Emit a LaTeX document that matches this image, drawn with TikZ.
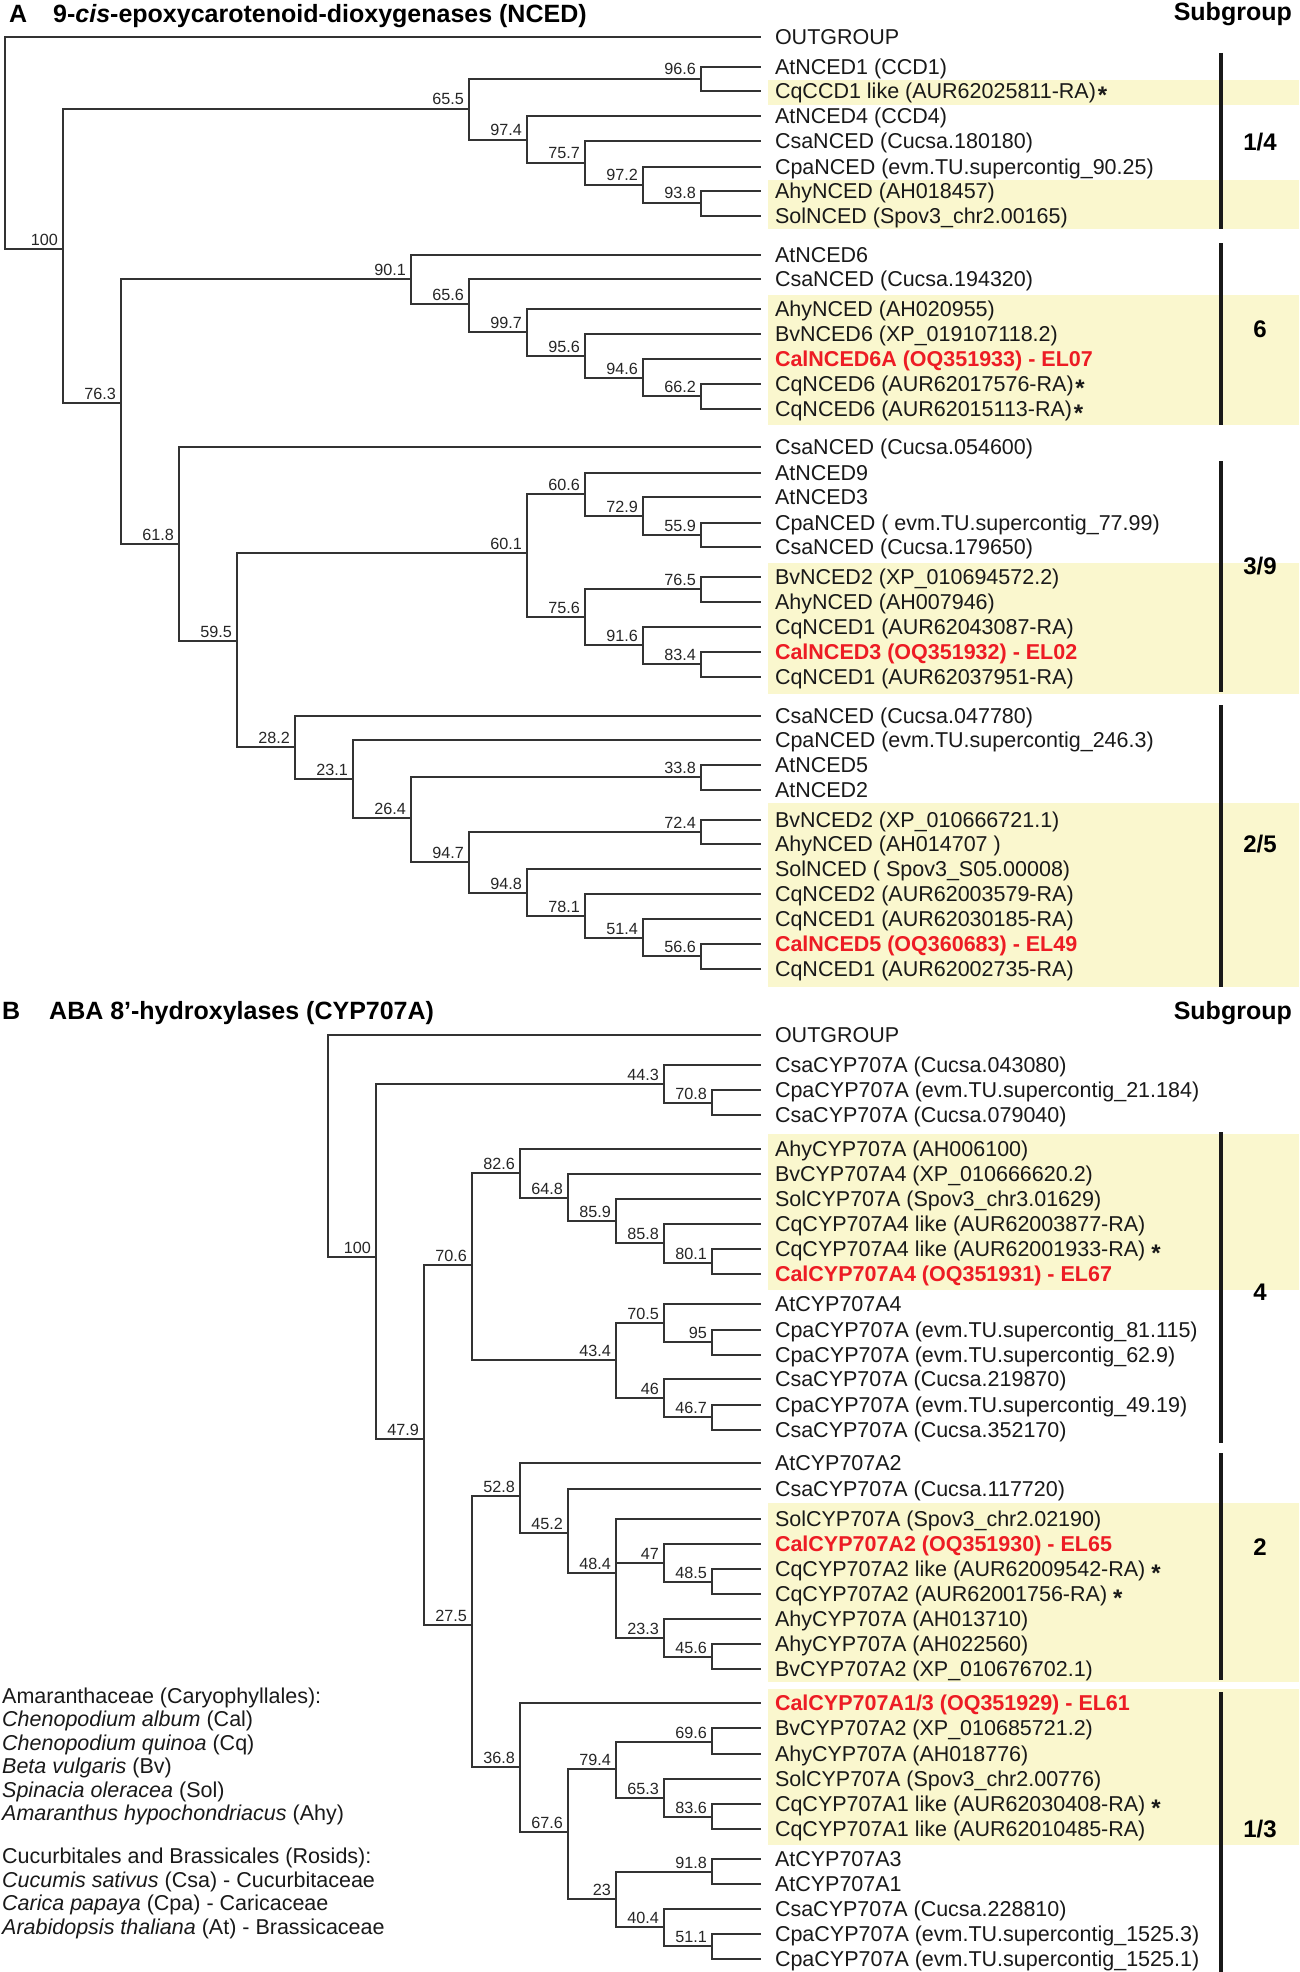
\documentclass[tikz,border=0pt]{standalone}
\usepackage{fontspec}
\setmainfont{Liberation Sans}
\definecolor{hl}{RGB}{250,247,206}
\definecolor{calred}{RGB}{237,28,36}
\tikzset{
 br/.style={draw=black!80, line width=1.3pt, line cap=rect},
 leaf/.style={anchor=west, inner xsep=15pt, inner ysep=0pt, outer sep=0pt, text height=15.4pt, text depth=0pt, text=black!90, font=\fontsize{21.5}{24}\selectfont},
 redleaf/.style={leaf, text=calred, font=\fontsize{21.5}{24}\selectfont\bfseries},
 bs/.style={anchor=base east, inner sep=0pt, font=\fontsize{16.2}{18}\selectfont, text=black!85},
 sgbar/.style={line width=3.3pt, draw=black!90},
 sglabel/.style={font=\fontsize{24}{26}\selectfont\bfseries, inner sep=0pt, text height=17.2pt, text depth=0pt},
 hlband/.style={fill=hl, draw=none},
 ttl/.style={anchor=base west, inner sep=0pt, font=\fontsize{25}{27}\selectfont\bfseries},
 lgd/.style={anchor=base west, inner sep=0pt, font=\fontsize{21.5}{24}\selectfont, text=black!90},
}
\newcommand\inode[4]{\coordinate (#1) at (#2,#3); \node[bs] (#1l) at ([xshift=-5pt,yshift=4pt]#1) {#4};}
\newcommand\lf[3]{\node[leaf] (#1) at (760,#2) {#3};}
\newcommand\rlf[3]{\node[redleaf] (#1) at (760,#2) {#3};}
\newcommand\edges[2]{\foreach \ch in {#2} {\draw[br] (#1) |- (\ch);}}
\newcommand\sx{\raisebox{-0.24em}{\bfseries\fontsize{24}{26}\selectfont *}}
\begin{document}
\begin{tikzpicture}[x=1pt,y=-1pt]
\useasboundingbox (0,0) rectangle (1299,1972);
% ---------- highlight bands ----------
\fill[hlband] (768,80) rectangle (1299,105);
\fill[hlband] (768,180) rectangle (1299,229);
\fill[hlband] (768,295) rectangle (1299,425);
\fill[hlband] (768,563) rectangle (1299,694);
\fill[hlband] (768,803) rectangle (1299,987);
\fill[hlband] (768,1134) rectangle (1299,1290);
\fill[hlband] (768,1503) rectangle (1299,1682);
\fill[hlband] (768,1689) rectangle (1299,1845);
% ---------- titles ----------
\node[ttl] (tA) at (9,23) {A};
\node[ttl] (tAt) at (53,23) {9-\textit{cis}-epoxycarotenoid-dioxygenases (NCED)};
\node[ttl, anchor=base east] (sgA) at (1292,21) {Subgroup};
\node[ttl] (tB) at (2,1019) {B};
\node[ttl] (tBt) at (49,1019) {ABA 8’-hydroxylases (CYP707A)};
\node[ttl, anchor=base east] (sgB) at (1292,1019) {Subgroup};
% ---------- subgroup bars ----------
\draw[sgbar] (1221,53) -- (1221,229);
\draw[sgbar] (1221,243) -- (1221,425);
\draw[sgbar] (1221,461) -- (1221,692);
\draw[sgbar] (1221,705) -- (1221,987);
\draw[sgbar] (1221,1132) -- (1221,1443);
\draw[sgbar] (1221,1453) -- (1221,1680);
\draw[sgbar] (1221,1692) -- (1221,1972);
\node[sglabel] (g14) at (1260,142) {1/4};
\node[sglabel] (g6) at (1260,329) {6};
\node[sglabel] (g39) at (1260,566) {3/9};
\node[sglabel] (g25) at (1260,844) {2/5};
\node[sglabel] (g4) at (1260,1292) {4};
\node[sglabel] (g2) at (1260,1547) {2};
\node[sglabel] (g13) at (1260,1829) {1/3};
% ---------- panel A internal nodes ----------
\coordinate (rootA) at (5,37);
\inode{a100}{63}{249}{100}
\inode{a655}{469}{109}{65.5}
\inode{a966}{701}{79}{96.6}
\inode{a974}{527}{140}{97.4}
\inode{a757}{585}{163}{75.7}
\inode{a972}{643}{185}{97.2}
\inode{a938}{701}{203}{93.8}
\inode{a763}{121}{403}{76.3}
\inode{a901}{411}{279}{90.1}
\inode{a656}{469}{304}{65.6}
\inode{a997}{527}{332}{99.7}
\inode{a956}{585}{356}{95.6}
\inode{a946}{643}{378}{94.6}
\inode{a662}{701}{396}{66.2}
\inode{a618}{179}{544}{61.8}
\inode{a595}{237}{641}{59.5}
\inode{a601}{527}{553}{60.1}
\inode{a606}{585}{494}{60.6}
\inode{a729}{643}{516}{72.9}
\inode{a559}{701}{535}{55.9}
\inode{a756}{585}{617}{75.6}
\inode{a765}{701}{589}{76.5}
\inode{a916}{643}{645}{91.6}
\inode{a834}{701}{664}{83.4}
\inode{a282}{295}{747}{28.2}
\inode{a231}{353}{779}{23.1}
\inode{a264}{411}{818}{26.4}
\inode{a338}{701}{777}{33.8}
\inode{a947}{469}{862}{94.7}
\inode{a724}{701}{832}{72.4}
\inode{a948}{527}{893}{94.8}
\inode{a781}{585}{916}{78.1}
\inode{a514}{643}{938}{51.4}
\inode{a566}{701}{956}{56.6}
% ---------- panel A leaves ----------
\lf{A0}{37}{OUTGROUP}
\lf{A1}{67}{AtNCED1 (CCD1)}
\lf{A2}{91}{CqCCD1 like (AUR62025811-RA)\hspace{0.08em}\sx}
\lf{A3}{116}{AtNCED4 (CCD4)}
\lf{A4}{141}{CsaNCED (Cucsa.180180)}
\lf{A5}{167}{CpaNCED (evm.TU.supercontig\_90.25)}
\lf{A6}{191}{AhyNCED (AH018457)}
\lf{A7}{216}{SolNCED (Spov3\_chr2.00165)}
\lf{A8}{255}{AtNCED6}
\lf{A9}{279}{CsaNCED (Cucsa.194320)}
\lf{A10}{309}{AhyNCED (AH020955)}
\lf{A11}{334}{BvNCED6 (XP\_019107118.2)}
\rlf{A12}{359}{CalNCED6A (OQ351933) - EL07}
\lf{A13}{384}{CqNCED6 (AUR62017576-RA)\hspace{0.08em}\sx}
\lf{A14}{409}{CqNCED6 (AUR62015113-RA)\hspace{0.08em}\sx}
\lf{A15}{447}{CsaNCED (Cucsa.054600)}
\lf{A16}{473}{AtNCED9}
\lf{A17}{497}{AtNCED3}
\lf{A18}{523}{CpaNCED ( evm.TU.supercontig\_77.99)}
\lf{A19}{547}{CsaNCED (Cucsa.179650)}
\lf{A20}{577}{BvNCED2 (XP\_010694572.2)}
\lf{A21}{602}{AhyNCED (AH007946)}
\lf{A22}{627}{CqNCED1 (AUR62043087-RA)}
\rlf{A23}{652}{CalNCED3 (OQ351932) - EL02}
\lf{A24}{677}{CqNCED1 (AUR62037951-RA)}
\lf{A25}{716}{CsaNCED (Cucsa.047780)}
\lf{A26}{740}{CpaNCED (evm.TU.supercontig\_246.3)}
\lf{A27}{765}{AtNCED5}
\lf{A28}{790}{AtNCED2}
\lf{A29}{820}{BvNCED2 (XP\_010666721.1)}
\lf{A30}{844}{AhyNCED (AH014707 )}
\lf{A31}{869}{SolNCED ( Spov3\_S05.00008)}
\lf{A32}{894}{CqNCED2 (AUR62003579-RA)}
\lf{A33}{919}{CqNCED1 (AUR62030185-RA)}
\rlf{A34}{944}{CalNCED5 (OQ360683) - EL49}
\lf{A35}{969}{CqNCED1 (AUR62002735-RA)}
% ---------- panel A edges ----------
\edges{rootA}{A0,a100}
\edges{a100}{a655,a763}
\edges{a655}{a966,a974}
\edges{a966}{A1,A2}
\edges{a974}{A3,a757}
\edges{a757}{A4,a972}
\edges{a972}{A5,a938}
\edges{a938}{A6,A7}
\edges{a763}{a901,a618}
\edges{a901}{A8,a656}
\edges{a656}{A9,a997}
\edges{a997}{A10,a956}
\edges{a956}{A11,a946}
\edges{a946}{A12,a662}
\edges{a662}{A13,A14}
\edges{a618}{A15,a595}
\edges{a595}{a601,a282}
\edges{a601}{a606,a756}
\edges{a606}{A16,a729}
\edges{a729}{A17,a559}
\edges{a559}{A18,A19}
\edges{a756}{a765,a916}
\edges{a765}{A20,A21}
\edges{a916}{A22,a834}
\edges{a834}{A23,A24}
\edges{a282}{A25,a231}
\edges{a231}{A26,a264}
\edges{a264}{a338,a947}
\edges{a338}{A27,A28}
\edges{a947}{a724,a948}
\edges{a724}{A29,A30}
\edges{a948}{A31,a781}
\edges{a781}{A32,a514}
\edges{a514}{A33,a566}
\edges{a566}{A34,A35}
% ---------- panel B internal nodes ----------
\coordinate (rootB) at (328,1035);
\inode{b100}{376}{1257}{100}
\inode{b443}{664}{1084}{44.3}
\inode{b708}{712}{1103}{70.8}
\inode{b479}{424}{1439}{47.9}
\inode{b706}{472}{1265}{70.6}
\inode{b826}{520}{1173}{82.6}
\inode{b648}{568}{1198}{64.8}
\inode{b859}{616}{1221}{85.9}
\inode{b858}{664}{1243}{85.8}
\inode{b801}{712}{1263}{80.1}
\inode{b434}{616}{1360}{43.4}
\inode{b705}{664}{1323}{70.5}
\inode{b95}{712}{1342}{95}
\inode{b46}{664}{1398}{46}
\inode{b467}{712}{1417}{46.7}
\inode{b275}{472}{1625}{27.5}
\inode{b528}{520}{1496}{52.8}
\inode{b452}{568}{1533}{45.2}
\inode{b484}{616}{1573}{48.4}
\inode{b47}{664}{1563}{47}
\inode{b485}{712}{1582}{48.5}
\inode{b233}{664}{1638}{23.3}
\inode{b456}{712}{1657}{45.6}
\inode{b368}{520}{1767}{36.8}
\inode{b676}{568}{1832}{67.6}
\inode{b794}{616}{1769}{79.4}
\inode{b696}{712}{1742}{69.6}
\inode{b653}{664}{1798}{65.3}
\inode{b836}{712}{1817}{83.6}
\inode{b23}{616}{1899}{23}
\inode{b918}{712}{1872}{91.8}
\inode{b404}{664}{1927}{40.4}
\inode{b511}{712}{1946}{51.1}
% ---------- panel B leaves ----------
\lf{B0}{1035}{OUTGROUP}
\lf{B1}{1065}{CsaCYP707A (Cucsa.043080)}
\lf{B2}{1090}{CpaCYP707A (evm.TU.supercontig\_21.184)}
\lf{B3}{1115}{CsaCYP707A (Cucsa.079040)}
\lf{B4}{1149}{AhyCYP707A (AH006100)}
\lf{B5}{1174}{BvCYP707A4 (XP\_010666620.2)}
\lf{B6}{1199}{SolCYP707A (Spov3\_chr3.01629)}
\lf{B7}{1224}{CqCYP707A4 like (AUR62003877-RA)}
\lf{B8}{1249}{CqCYP707A4 like (AUR62001933-RA) \sx}
\rlf{B9}{1274}{CalCYP707A4 (OQ351931) - EL67}
\lf{B10}{1304}{AtCYP707A4}
\lf{B11}{1330}{CpaCYP707A (evm.TU.supercontig\_81.115)}
\lf{B12}{1355}{CpaCYP707A (evm.TU.supercontig\_62.9)}
\lf{B13}{1379}{CsaCYP707A (Cucsa.219870)}
\lf{B14}{1405}{CpaCYP707A (evm.TU.supercontig\_49.19)}
\lf{B15}{1430}{CsaCYP707A (Cucsa.352170)}
\lf{B16}{1463}{AtCYP707A2}
\lf{B17}{1489}{CsaCYP707A (Cucsa.117720)}
\lf{B18}{1519}{SolCYP707A (Spov3\_chr2.02190)}
\rlf{B19}{1544}{CalCYP707A2 (OQ351930) - EL65}
\lf{B20}{1569}{CqCYP707A2 like (AUR62009542-RA) \sx}
\lf{B21}{1594}{CqCYP707A2 (AUR62001756-RA) \sx}
\lf{B22}{1619}{AhyCYP707A (AH013710)}
\lf{B23}{1644}{AhyCYP707A (AH022560)}
\lf{B24}{1669}{BvCYP707A2 (XP\_010676702.1)}
\rlf{B25}{1703}{CalCYP707A1/3 (OQ351929) - EL61}
\lf{B26}{1728}{BvCYP707A2 (XP\_010685721.2)}
\lf{B27}{1754}{AhyCYP707A (AH018776)}
\lf{B28}{1779}{SolCYP707A (Spov3\_chr2.00776)}
\lf{B29}{1804}{CqCYP707A1 like (AUR62030408-RA) \sx}
\lf{B30}{1829}{CqCYP707A1 like (AUR62010485-RA)}
\lf{B31}{1859}{AtCYP707A3}
\lf{B32}{1884}{AtCYP707A1}
\lf{B33}{1909}{CsaCYP707A (Cucsa.228810)}
\lf{B34}{1934}{CpaCYP707A (evm.TU.supercontig\_1525.3)}
\lf{B35}{1959}{CpaCYP707A (evm.TU.supercontig\_1525.1)}
% ---------- panel B edges ----------
\edges{rootB}{B0,b100}
\edges{b100}{b443,b479}
\edges{b443}{B1,b708}
\edges{b708}{B2,B3}
\edges{b479}{b706,b275}
\edges{b706}{b826,b434}
\edges{b826}{B4,b648}
\edges{b648}{B5,b859}
\edges{b859}{B6,b858}
\edges{b858}{B7,b801}
\edges{b801}{B8,B9}
\edges{b434}{b705,b46}
\edges{b705}{B10,b95}
\edges{b95}{B11,B12}
\edges{b46}{B13,b467}
\edges{b467}{B14,B15}
\edges{b275}{b528,b368}
\edges{b528}{B16,b452}
\edges{b452}{B17,b484}
\edges{b484}{B18,b47,b233}
\edges{b47}{B19,b485}
\edges{b485}{B20,B21}
\edges{b233}{B22,b456}
\edges{b456}{B23,B24}
\edges{b368}{B25,b676}
\edges{b676}{b794,b23}
\edges{b794}{b696,b653}
\edges{b696}{B26,B27}
\edges{b653}{B28,b836}
\edges{b836}{B29,B30}
\edges{b23}{b918,b404}
\edges{b918}{B31,B32}
\edges{b404}{B33,b511}
\edges{b511}{B34,B35}
% ---------- legend ----------
\node[lgd] (L1) at (2,1703) {Amaranthaceae (Caryophyllales):};
\node[lgd] (L2) at (2,1726) {\textit{Chenopodium album} (Cal)};
\node[lgd] (L3) at (2,1750) {\textit{Chenopodium quinoa} (Cq)};
\node[lgd] (L4) at (2,1773) {\textit{Beta vulgaris} (Bv)};
\node[lgd] (L5) at (2,1797) {\textit{Spinacia oleracea} (Sol)};
\node[lgd] (L6) at (2,1820) {\textit{Amaranthus hypochondriacus} (Ahy)};
\node[lgd] (L7) at (2,1863) {Cucurbitales and Brassicales (Rosids):};
\node[lgd] (L8) at (2,1887) {\textit{Cucumis sativus} (Csa) - Cucurbitaceae};
\node[lgd] (L9) at (2,1910) {\textit{Carica papaya} (Cpa) - Caricaceae};
\node[lgd] (L10) at (2,1934) {\textit{Arabidopsis thaliana} (At) - Brassicaceae};
\end{tikzpicture}
\end{document}
